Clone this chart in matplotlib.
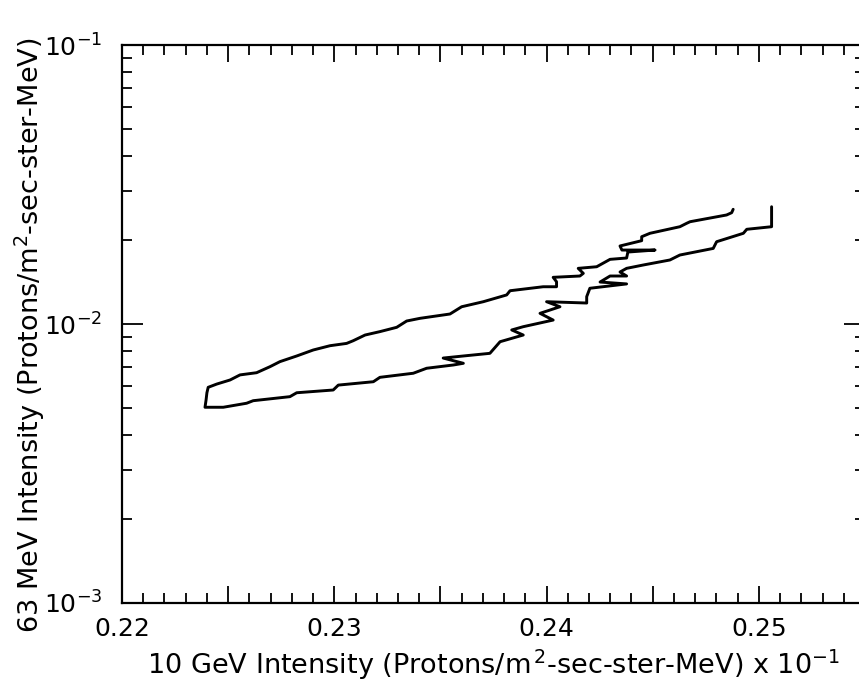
import matplotlib
matplotlib.use("Agg")
import matplotlib.pyplot as plt
from matplotlib.ticker import MultipleLocator, FixedLocator, LogLocator, NullFormatter, FuncFormatter

# Upper branch of the loop, traced from its right-hand end toward the low-intensity corner
upper_x = [0.24879, 0.24872, 0.24848, 0.24676, 0.24660, 0.24628, 0.24487, 0.24448,
           0.24448, 0.24346, 0.24355, 0.24511, 0.24383, 0.24377, 0.24299, 0.24236,
           0.24149, 0.24173, 0.24157, 0.24031, 0.24047, 0.24047, 0.23984, 0.23828,
           0.23812, 0.23702, 0.23600, 0.23545, 0.23404, 0.23341, 0.23294, 0.23215,
           0.23145, 0.23089, 0.23058, 0.22980, 0.22901, 0.22823, 0.22744, 0.22697,
           0.22634, 0.22556, 0.22509, 0.22446, 0.22406, 0.22400, 0.22396, 0.22391]
upper_y = [0.02577, 0.02506, 0.02459, 0.02326, 0.02296, 0.02232, 0.02114, 0.02055,
           0.01989, 0.01904, 0.01841, 0.01841, 0.01811, 0.01724, 0.01705, 0.01604,
           0.01583, 0.01519, 0.01486, 0.01470, 0.01417, 0.01360, 0.01360, 0.01316,
           0.01271, 0.01202, 0.01153, 0.01086, 0.01048, 0.01025, 0.00973, 0.00939,
           0.00913, 0.00871, 0.00852, 0.00836, 0.00807, 0.00768, 0.00733, 0.00703,
           0.00669, 0.00657, 0.00630, 0.00609, 0.00593, 0.00567, 0.00534, 0.00503]

# Lower branch, from the low-intensity corner back out to the high-intensity end
lower_x = [0.22477, 0.22587, 0.22618, 0.22791, 0.22823, 0.22995, 0.23019, 0.23184,
           0.23215, 0.23372, 0.23435, 0.23561, 0.23608, 0.23513, 0.23608, 0.23733,
           0.23781, 0.23890, 0.23836, 0.23890, 0.24031, 0.23969, 0.24063, 0.24000,
           0.24189, 0.24189, 0.24204, 0.24377, 0.24252, 0.24299, 0.24377, 0.24346,
           0.24377, 0.24455, 0.24581, 0.24628, 0.24785, 0.24801, 0.24927, 0.24943,
           0.25060, 0.25060]
lower_y = [0.00503, 0.00520, 0.00531, 0.00549, 0.00567, 0.00580, 0.00604, 0.00621,
           0.00644, 0.00666, 0.00694, 0.00713, 0.00723, 0.00755, 0.00768, 0.00785,
           0.00864, 0.00913, 0.00952, 0.00978, 0.01033, 0.01092, 0.01153, 0.01202,
           0.01189, 0.01253, 0.01343, 0.01392, 0.01414, 0.01486, 0.01486, 0.01536,
           0.01583, 0.01627, 0.01696, 0.01767, 0.01866, 0.01972, 0.02114, 0.02185,
           0.02232, 0.02632]

x_labelled = [0.22, 0.23, 0.24, 0.25]
y_decades = [1e-3, 1e-2, 1e-1]
y_tick_labels = [r"$10^{-3}$", r"$10^{-2}$", r"$10^{-1}$"]

plt.rcParams["font.family"] = ["DejaVu Sans"]

fig = plt.figure(figsize=(8.59, 6.88), dpi=100)
ax = fig.add_axes([122 / 859, 85 / 688, 743 / 859, 558 / 688])

loop_x = upper_x + lower_x
loop_y = upper_y + lower_y
ax.plot(loop_x, loop_y, color="black", lw=2.1, solid_joinstyle="round",
        solid_capstyle="round")

ax.set_yscale("log")
ax.set_xlim(0.22, 0.255)
ax.set_ylim(1e-3, 1e-1)

# x axis: majors every 0.005, labels only at whole hundredths
ax.xaxis.set_major_locator(MultipleLocator(0.005))
ax.xaxis.set_minor_locator(MultipleLocator(0.001))


def xfmt(v, pos):
    for lab in x_labelled:
        if abs(v - lab) < 1e-6:
            return f"{lab:.2f}"
    return ""


ax.xaxis.set_major_formatter(FuncFormatter(xfmt))

ax.yaxis.set_major_locator(FixedLocator(y_decades))
ax.set_yticklabels(y_tick_labels)
ax.yaxis.set_minor_locator(LogLocator(base=10, subs=range(2, 10)))
ax.yaxis.set_minor_formatter(NullFormatter())

ax.tick_params(axis="both", which="major", direction="in", top=True, right=True,
               width=1.3, labelsize=18, color="black")
ax.tick_params(axis="x", which="major", length=12, pad=10)
ax.tick_params(axis="y", which="major", length=15, pad=14)
ax.tick_params(axis="both", which="minor", direction="in", top=True, right=True,
               width=1.3, length=7)

for sp in ax.spines.values():
    sp.set_linewidth(1.6)

ax.set_xlabel(r"10 GeV Intensity (Protons/m$^{\,2}$-sec-ster-MeV) x 10$^{-1}$",
              fontsize=19.5, va="center")
ax.xaxis.set_label_coords(0.50, -0.111)
ax.set_ylabel(r"63 MeV Intensity (Protons/m$^{2}$-sec-ster-MeV)", fontsize=19.5,
              va="center")
ax.yaxis.set_label_coords(-0.124, 0.48)

fig.savefig("out.png", dpi=100)
